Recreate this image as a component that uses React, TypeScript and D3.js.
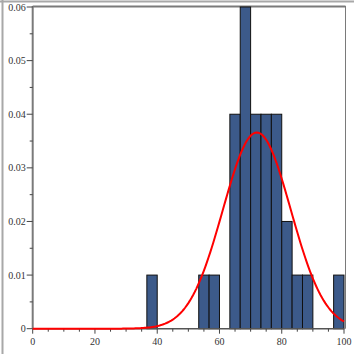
import * as d3 from "d3"

// histogram bins (width 10/3), density per bin
const binStart = [36.667, 53.333, 56.667, 63.333, 66.667, 70, 73.333, 76.667, 80, 83.333, 86.667, 96.667]
const binDensity = [0.01, 0.01, 0.01, 0.04, 0.06, 0.04, 0.04, 0.04, 0.02, 0.01, 0.01, 0.01]
const binWidth = 10 / 3

// fitted normal curve
const fitMean = 72
const fitSd = 10.9

const xTicks = [0, 20, 40, 60, 80, 100]
const yTicks = [0, 0.01, 0.02, 0.03, 0.04, 0.05, 0.06]
const yTickLabels = ["0", "0.01", "0.02", "0.03", "0.04", "0.05", "0.06"]

export default function App() {
    const width = 354
    const height = 354
    const x = d3.scaleLinear().domain([0, 100]).range([32.7, 344])
    const y = d3.scaleLinear().domain([0, 0.06]).range([328.7, 7])

    const pdf = (v: number) =>
        Math.exp(-((v - fitMean) ** 2) / (2 * fitSd * fitSd)) / (fitSd * Math.sqrt(2 * Math.PI))
    const curvePts = d3.range(0, 100.01, 0.5)
    const curve =
        d3
            .line<number>()
            .x((d) => x(d))
            .y((d) => y(pdf(d)))(curvePts) || ""

    const xMinor = d3.range(0, 101, 5).filter((v) => v % 20 !== 0)
    const yMinor = d3.range(0.005, 0.06, 0.01)
    const axisColor = "#7a7a7a"
    const labelColor = "#333"
    const font = "'Liberation Serif', serif"

    return (
        <svg
            width={width}
            height={height}
            style={{ position: "absolute", left: 0, top: 0, background: "#fff" }}
        >
            {/* outer frame */}
            <line x1={0} y1={1.5} x2={width} y2={1.5} stroke="#a8a8a8" strokeWidth={2} />
            <line x1={2.5} y1={0} x2={2.5} y2={height} stroke="#a8a8a8" strokeWidth={2} />

            {/* plot frame */}
            <line x1={x(0)} y1={6.5} x2={345.5} y2={6.5} stroke={axisColor} strokeWidth={2} />
            <line x1={345.5} y1={6} x2={345.5} y2={y(0)} stroke={axisColor} strokeWidth={1} />

            {binStart.map((b, i) => (
                <rect
                    key={i}
                    x={x(b)}
                    y={y(binDensity[i])}
                    width={x(b + binWidth) - x(b)}
                    height={y(0) - y(binDensity[i])}
                    fill="#3c5a8a"
                    stroke="#111"
                    strokeWidth={1}
                />
            ))}

            {/* y axis */}
            <line x1={x(0)} y1={6} x2={x(0)} y2={y(0)} stroke={axisColor} strokeWidth={2} />
            {yTicks.map((t, i) => (
                <g key={t}>
                    <line x1={x(0) - 6} y1={y(t)} x2={x(0)} y2={y(t)} stroke="#444" />
                    <text
                        x={x(0) - 7}
                        y={y(t)}
                        dy="0.35em"
                        textAnchor="end"
                        fontSize={10}
                        fontFamily={font}
                        fill={labelColor}
                    >
                        {yTickLabels[i]}
                    </text>
                </g>
            ))}
            {yMinor.map((t) => (
                <line key={t} x1={x(0) - 3} y1={y(t)} x2={x(0)} y2={y(t)} stroke="#444" />
            ))}

            {/* x axis */}
            <line x1={x(0)} y1={y(0)} x2={x(100)} y2={y(0)} stroke="#555" strokeWidth={1.5} />
            {xTicks.map((t) => (
                <g key={t}>
                    <line x1={x(t)} y1={y(0)} x2={x(t)} y2={y(0) + 5} stroke="#444" />
                    <text
                        x={x(t)}
                        y={y(0) + 16}
                        textAnchor="middle"
                        fontSize={10}
                        fontFamily={font}
                        fill={labelColor}
                    >
                        {t}
                    </text>
                </g>
            ))}
            {xMinor.map((t) => (
                <line key={t} x1={x(t)} y1={y(0)} x2={x(t)} y2={y(0) + 3} stroke="#444" />
            ))}

            <path d={curve} fill="none" stroke="#ff0000" strokeWidth={2} />
        </svg>
    )
}
